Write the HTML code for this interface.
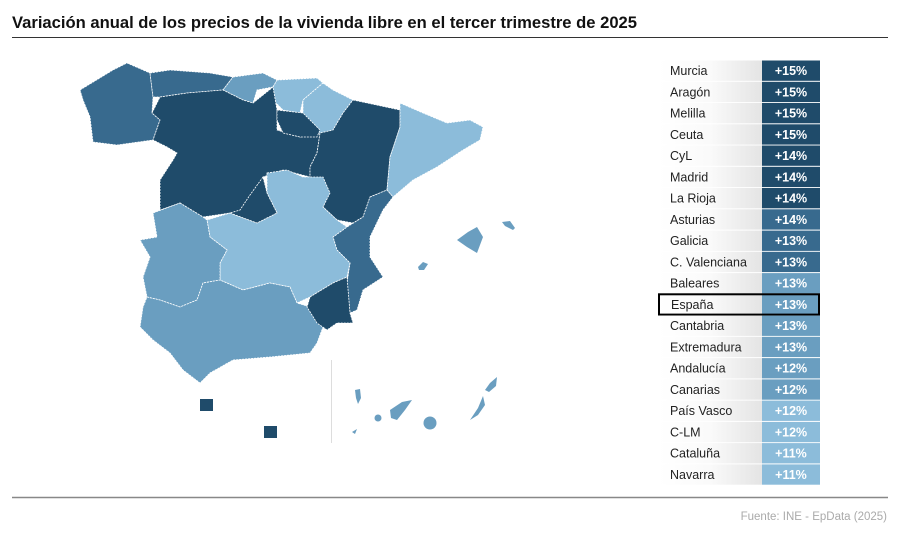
<!DOCTYPE html>
<html><head><meta charset="utf-8"><style>
body{margin:0;background:#fff;}
svg{display:block;font-family:"Liberation Sans",sans-serif;}
</style></head><body>
<svg width="900" height="538" viewBox="0 0 900 538" xmlns="http://www.w3.org/2000/svg">
<defs>
<linearGradient id="g" x1="0" x2="1" y1="0" y2="0"><stop offset="0" stop-color="#fff"/><stop offset="0.5" stop-color="#fafafa"/><stop offset="1" stop-color="#e4e4e4"/></linearGradient>
</defs>
<text x="12" y="28" font-size="16.3" font-weight="bold" fill="#111" textLength="625" lengthAdjust="spacingAndGlyphs">Variación anual de los precios de la vivienda libre en el tercer trimestre de 2025</text>
<line x1="12" y1="37.5" x2="888" y2="37.5" stroke="#333" stroke-width="1"/>
<line x1="12" y1="497.5" x2="888" y2="497.5" stroke="#888" stroke-width="1.5"/>
<text x="887" y="520" font-size="11.5" fill="#aaa" text-anchor="end">Fuente: INE - EpData (2025)</text>

<g stroke="#fff" stroke-width="0.8" stroke-dasharray="2,1">
<polygon fill="#386a8e" points="80,90 113,70 127,63 150,73 153,97 152,113 160,120 153,140 117,145 93,142 90,117 83,100"/>
<polygon fill="#386a8e" points="150,73 170,70 210,73 233,77 223,90 187,93 160,97 153,97"/>
<polygon fill="#6a9ec0" points="233,77 263,73 277,80 273,87 257,90 253,103 243,100 223,90"/>
<polygon fill="#8cbcda" points="277,80 317,78 323,83 303,100 300,113 283,110 273,100 273,87"/>
<polygon fill="#8cbcda" points="323,83 333,90 353,100 343,113 333,130 323,140 317,133 303,113 303,100"/>
<polygon fill="#1f4b6a" points="160,97 187,93 223,90 243,100 253,103 273,87 277,110 277,130 300,137 320,133 317,153 310,167 310,177 283,170 263,177 267,193 277,213 257,223 230,213 203,217 180,203 160,210 160,180 173,160 177,153 167,147 153,140 160,120 152,113"/>
<polygon fill="#1f4b6a" points="277,110 303,113 320,130 317,137 300,137 283,133 277,120"/>
<polygon fill="#1f4b6a" points="353,100 400,110 400,127 390,157 387,190 370,197 363,217 353,223 337,220 323,207 327,197 310,177 310,167 317,153 320,133 333,130 343,113"/>
<polygon fill="#8cbcda" points="400,103 423,113 447,123 470,120 483,127 480,140 463,150 437,167 413,180 393,197 387,190 390,157 400,127"/>
<polygon fill="#386a8e" points="370,197 387,190 393,197 383,210 370,237 370,257 383,277 363,290 357,310 350,313 347,283 350,263 337,250 333,237 347,227 363,217"/>
<polygon fill="#8cbcda" points="267,173 287,170 303,177 323,177 330,193 323,207 337,220 347,227 333,237 337,250 350,263 347,277 333,283 310,297 297,303 290,287 270,283 243,290 220,280 220,263 227,250 210,237 207,220 230,213 257,223 277,213 267,193"/>
<polygon fill="#1f4b6a" points="263,177 250,195 240,210 230,213 257,223 277,213 267,193"/>
<polygon fill="#6a9ec0" points="180,203 203,217 207,220 210,237 227,250 220,263 220,280 203,283 197,300 180,307 160,300 147,297 143,277 150,257 140,240 157,237 153,213"/>
<polygon fill="#6a9ec0" points="147,297 160,300 180,307 197,300 203,283 220,280 243,290 270,283 290,287 297,303 310,307 323,327 317,343 310,353 270,357 233,360 210,373 200,383 183,370 170,353 153,340 140,327 143,307"/>
<polygon fill="#1f4b6a" points="310,297 333,283 347,277 350,313 353,323 337,323 327,330 317,323 307,307"/>
</g>
<polygon fill="#6a9ec0" points="457,240 468,232 477,227 483,237 477,253 467,247"/>
<polygon fill="#6a9ec0" points="502,222 510,221 515,228 513,230 505,226"/>
<polygon fill="#6a9ec0" points="418,267 423,262 428,264 424,270 419,270"/>
<rect x="200" y="399" width="13" height="12" fill="#1f4b6a"/>
<rect x="264" y="426" width="13" height="12" fill="#1f4b6a"/>
<line x1="331.5" y1="360" x2="331.5" y2="443" stroke="#ddd"/>
<g fill="#6a9ec0">
<polygon points="355,390 360,389 361,398 358,404 356,398"/>
<polygon points="390,410 402,402 412,400 405,410 397,420 391,418"/>
<circle cx="430" cy="423" r="6.5"/>
<circle cx="378" cy="418" r="3.5"/>
<polygon points="352,432 357,429 355,434"/>
<polygon points="470,420 478,408 483,396 485,405 478,415"/>
<polygon points="485,390 490,383 497,377 496,386 489,392"/>
</g>

<g font-size="12.5">
<rect x="658" y="60.5" width="104" height="20.3" fill="url(#g)"/><text x="670" y="75" fill="#222">Murcia</text><rect x="762" y="60.5" width="58" height="20.3" fill="#1f4b6a"/><text x="791" y="75" fill="#fff" font-weight="bold" text-anchor="middle">+15%</text>
<rect x="658" y="81.8" width="104" height="20.3" fill="url(#g)"/><text x="670" y="96.3" fill="#222">Aragón</text><rect x="762" y="81.8" width="58" height="20.3" fill="#1f4b6a"/><text x="791" y="96.3" fill="#fff" font-weight="bold" text-anchor="middle">+15%</text>
<rect x="658" y="103" width="104" height="20.3" fill="url(#g)"/><text x="670" y="117.5" fill="#222">Melilla</text><rect x="762" y="103" width="58" height="20.3" fill="#1f4b6a"/><text x="791" y="117.5" fill="#fff" font-weight="bold" text-anchor="middle">+15%</text>
<rect x="658" y="124.3" width="104" height="20.3" fill="url(#g)"/><text x="670" y="138.8" fill="#222">Ceuta</text><rect x="762" y="124.3" width="58" height="20.3" fill="#1f4b6a"/><text x="791" y="138.8" fill="#fff" font-weight="bold" text-anchor="middle">+15%</text>
<rect x="658" y="145.5" width="104" height="20.3" fill="url(#g)"/><text x="670" y="160" fill="#222">CyL</text><rect x="762" y="145.5" width="58" height="20.3" fill="#1f4b6a"/><text x="791" y="160" fill="#fff" font-weight="bold" text-anchor="middle">+14%</text>
<rect x="658" y="166.8" width="104" height="20.3" fill="url(#g)"/><text x="670" y="181.3" fill="#222">Madrid</text><rect x="762" y="166.8" width="58" height="20.3" fill="#1f4b6a"/><text x="791" y="181.3" fill="#fff" font-weight="bold" text-anchor="middle">+14%</text>
<rect x="658" y="188" width="104" height="20.3" fill="url(#g)"/><text x="670" y="202.5" fill="#222">La Rioja</text><rect x="762" y="188" width="58" height="20.3" fill="#1f4b6a"/><text x="791" y="202.5" fill="#fff" font-weight="bold" text-anchor="middle">+14%</text>
<rect x="658" y="209.3" width="104" height="20.3" fill="url(#g)"/><text x="670" y="223.8" fill="#222">Asturias</text><rect x="762" y="209.3" width="58" height="20.3" fill="#386a8e"/><text x="791" y="223.8" fill="#fff" font-weight="bold" text-anchor="middle">+14%</text>
<rect x="658" y="230.6" width="104" height="20.3" fill="url(#g)"/><text x="670" y="245.1" fill="#222">Galicia</text><rect x="762" y="230.6" width="58" height="20.3" fill="#386a8e"/><text x="791" y="245.1" fill="#fff" font-weight="bold" text-anchor="middle">+13%</text>
<rect x="658" y="251.8" width="104" height="20.3" fill="url(#g)"/><text x="670" y="266.3" fill="#222">C. Valenciana</text><rect x="762" y="251.8" width="58" height="20.3" fill="#386a8e"/><text x="791" y="266.3" fill="#fff" font-weight="bold" text-anchor="middle">+13%</text>
<rect x="658" y="273.1" width="104" height="20.3" fill="url(#g)"/><text x="670" y="287.6" fill="#222">Baleares</text><rect x="762" y="273.1" width="58" height="20.3" fill="#6a9ec0"/><text x="791" y="287.6" fill="#fff" font-weight="bold" text-anchor="middle">+13%</text>
<rect x="658" y="294.3" width="104" height="20.3" fill="url(#g)"/><rect x="762" y="294.3" width="58" height="20.3" fill="#6a9ec0"/><rect x="659" y="294.3" width="160" height="20.3" fill="none" stroke="#000" stroke-width="2"/><text x="671" y="308.8" fill="#222">España</text><text x="791" y="308.8" fill="#fff" font-weight="bold" text-anchor="middle">+13%</text>
<rect x="658" y="315.6" width="104" height="20.3" fill="url(#g)"/><text x="670" y="330.1" fill="#222">Cantabria</text><rect x="762" y="315.6" width="58" height="20.3" fill="#6a9ec0"/><text x="791" y="330.1" fill="#fff" font-weight="bold" text-anchor="middle">+13%</text>
<rect x="658" y="336.8" width="104" height="20.3" fill="url(#g)"/><text x="670" y="351.3" fill="#222">Extremadura</text><rect x="762" y="336.8" width="58" height="20.3" fill="#6a9ec0"/><text x="791" y="351.3" fill="#fff" font-weight="bold" text-anchor="middle">+13%</text>
<rect x="658" y="358.1" width="104" height="20.3" fill="url(#g)"/><text x="670" y="372.6" fill="#222">Andalucía</text><rect x="762" y="358.1" width="58" height="20.3" fill="#6a9ec0"/><text x="791" y="372.6" fill="#fff" font-weight="bold" text-anchor="middle">+12%</text>
<rect x="658" y="379.4" width="104" height="20.3" fill="url(#g)"/><text x="670" y="393.9" fill="#222">Canarias</text><rect x="762" y="379.4" width="58" height="20.3" fill="#6a9ec0"/><text x="791" y="393.9" fill="#fff" font-weight="bold" text-anchor="middle">+12%</text>
<rect x="658" y="400.6" width="104" height="20.3" fill="url(#g)"/><text x="670" y="415.1" fill="#222">País Vasco</text><rect x="762" y="400.6" width="58" height="20.3" fill="#8cbcda"/><text x="791" y="415.1" fill="#fff" font-weight="bold" text-anchor="middle">+12%</text>
<rect x="658" y="421.9" width="104" height="20.3" fill="url(#g)"/><text x="670" y="436.4" fill="#222">C-LM</text><rect x="762" y="421.9" width="58" height="20.3" fill="#8cbcda"/><text x="791" y="436.4" fill="#fff" font-weight="bold" text-anchor="middle">+12%</text>
<rect x="658" y="443.1" width="104" height="20.3" fill="url(#g)"/><text x="670" y="457.6" fill="#222">Cataluña</text><rect x="762" y="443.1" width="58" height="20.3" fill="#8cbcda"/><text x="791" y="457.6" fill="#fff" font-weight="bold" text-anchor="middle">+11%</text>
<rect x="658" y="464.4" width="104" height="20.3" fill="url(#g)"/><text x="670" y="478.9" fill="#222">Navarra</text><rect x="762" y="464.4" width="58" height="20.3" fill="#8cbcda"/><text x="791" y="478.9" fill="#fff" font-weight="bold" text-anchor="middle">+11%</text>
</g>
</svg>
</body></html>
